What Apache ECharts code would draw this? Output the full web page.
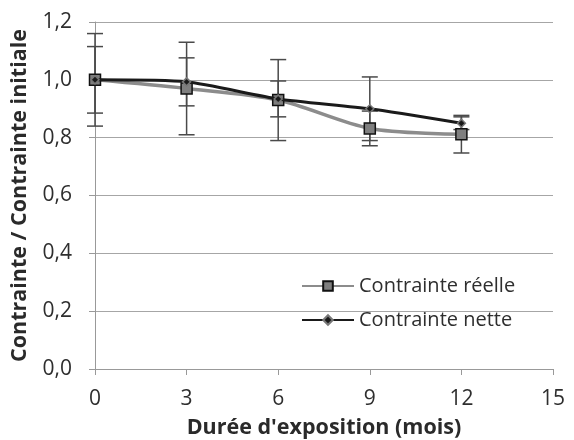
<!DOCTYPE html>
<html>
<head>
<meta charset="utf-8">
<script src="https://cdn.jsdelivr.net/npm/echarts@6/dist/echarts.min.js"></script>
<style>html,body{margin:0;padding:0;background:#fff}#c{width:574px;height:440px}</style>
</head>
<body>
<div id="c"></div>
<script>
// Exposure time (months)
const months = [0, 3, 6, 9, 12];
// Normalised stress, real and net
const reelle = [1.00, 0.97, 0.93, 0.832, 0.812];
const nette = [1.00, 0.993, 0.934, 0.90, 0.85];
// Error bar half-widths
const errReelle = [0.16, 0.16, 0.14, 0.06, 0.065];
const errNette = [0.115, 0.083, 0.062, 0.11, 0.022];
const yTicks = [0, 0.2, 0.4, 0.6, 0.8, 1.0, 1.2];

const FONT = '"Open Sans", Lato, sans-serif';

function errData(vals, errs) {
  return months.map((m, i) => [m, vals[i] - errs[i], vals[i] + errs[i]]);
}

function errSeries(name, vals, errs) {
  return {
    type: 'custom',
    name: name + ' err',
    z: 1,
    silent: true,
    data: errData(vals, errs),
    renderItem: function (params, api) {
      const x = api.value(0);
      const lo = api.coord([x, api.value(1)]);
      const hi = api.coord([x, api.value(2)]);
      const w = 8;
      const st = { stroke: '#4a4a4a', lineWidth: 1.5 };
      return {
        type: 'group',
        children: [
          { type: 'line', shape: { x1: lo[0], y1: lo[1], x2: hi[0], y2: hi[1] }, style: st },
          { type: 'line', shape: { x1: lo[0] - w, y1: lo[1], x2: lo[0] + w, y2: lo[1] }, style: st },
          { type: 'line', shape: { x1: hi[0] - w, y1: hi[1], x2: hi[0] + w, y2: hi[1] }, style: st }
        ]
      };
    }
  };
}

const chart = echarts.init(document.getElementById('c'));
chart.setOption({
  animation: false,
  textStyle: { fontFamily: FONT },
  grid: { left: 95, right: 21, top: 22, bottom: 71, containLabel: false, outerBoundsMode: 'none' },
  xAxis: {
    type: 'value', min: 0, max: 15, interval: 3,
    name: "Durée d'exposition (mois)", nameLocation: 'middle', nameGap: 48,
    nameTextStyle: { fontFamily: FONT, fontSize: 21.5, fontWeight: 'bold', color: '#2a2a2a' },
    axisLine: { show: true, lineStyle: { color: '#999', width: 1 } },
    axisTick: { show: true, length: 6, lineStyle: { color: '#999' } },
    axisLabel: { fontSize: 21, color: '#2e2e2e', margin: 20 },
    splitLine: { show: false }
  },
  yAxis: {
    type: 'value', min: 0, max: 1.2, interval: 0.2,
    name: 'Contrainte / Contrainte initiale', nameLocation: 'middle', nameGap: 64,
    nameTextStyle: { fontFamily: FONT, fontSize: 21.5, fontWeight: 'bold', color: '#2a2a2a' },
    axisLine: { show: true, lineStyle: { color: '#999', width: 1 } },
    axisTick: { show: true, length: 6, lineStyle: { color: '#999' } },
    axisLabel: { fontSize: 21, color: '#2e2e2e', margin: 23,
      formatter: v => v.toFixed(1).replace('.', ',') },
    splitLine: { show: true, lineStyle: { color: '#a6a6a6', width: 1 } }
  },
  legend: {
    orient: 'vertical', left: 296, top: 271, itemGap: 14,
    itemWidth: 52, itemHeight: 12,
    textStyle: { fontFamily: FONT, fontSize: 20, color: '#2e2e2e' },
    data: ['Contrainte réelle', 'Contrainte nette']
  },
  series: [
    errSeries('Contrainte réelle', reelle, errReelle),
    errSeries('Contrainte nette', nette, errNette),
    {
      type: 'line', name: 'Contrainte réelle', z: 3,
      data: months.map((m, i) => [m, reelle[i]]),
      smooth: 0.3,
      lineStyle: { color: '#8c8c8c', width: 3.5 },
      symbol: 'rect', symbolSize: 11,
      itemStyle: { color: '#7f7f7f', borderColor: '#111', borderWidth: 1.5 }
    },
    {
      type: 'line', name: 'Contrainte nette', z: 4,
      data: months.map((m, i) => [m, nette[i]]),
      smooth: 0.2,
      lineStyle: { color: '#1a1a1a', width: 3 },
      symbol: 'diamond', symbolSize: 8,
      itemStyle: { color: '#1a1a1a', borderColor: '#777', borderWidth: 1.5 }
    }
  ]
});
</script>
</body>
</html>
